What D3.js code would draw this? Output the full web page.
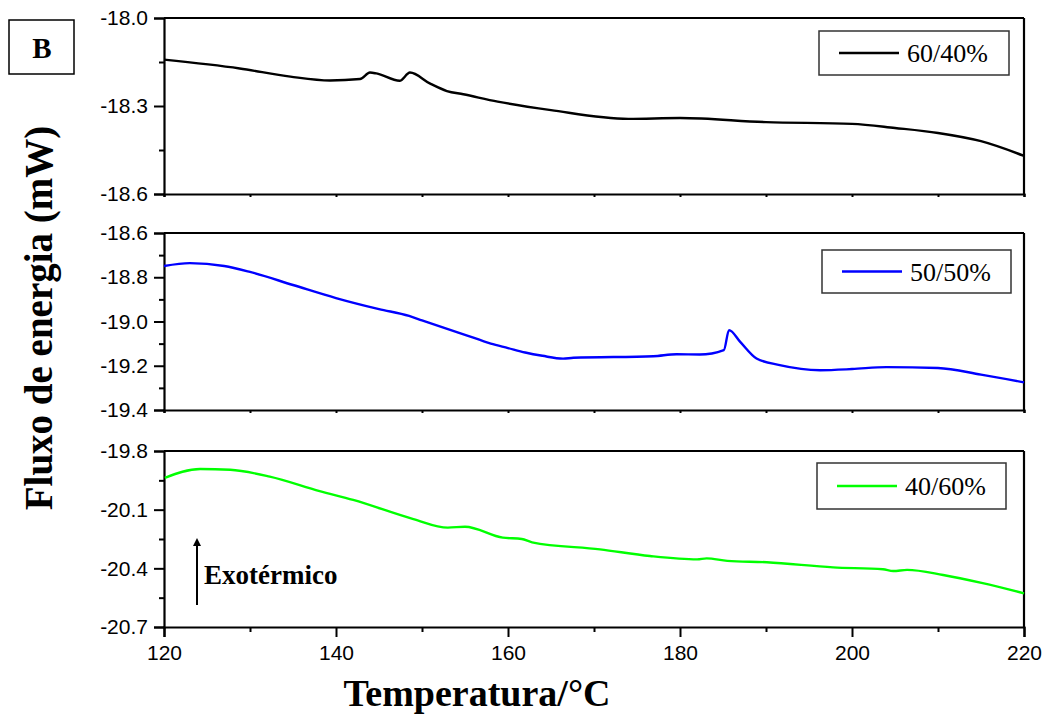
<!DOCTYPE html>
<html>
<head>
<meta charset="utf-8">
<script src="https://cdn.jsdelivr.net/npm/d3@7"></script>
<style>
body{margin:0;background:#fff;}
.tick text{font-family:"Liberation Sans",Arial,sans-serif;font-size:21px;fill:#000;}
.domain{stroke:#000;stroke-width:2.2;}
.tick line{stroke:#000;stroke-width:2;}
</style>
</head>
<body>
<svg id="chart"></svg>
<script>
//DSC curves, three blends, heat flow (mW) vs temperature (C)
var screen={width:1050,height:720}

//60/40%
var temp6040=[120,128.8,134.7,139.3,142.8,143.95,144.7,147.4,148.6,150.9,152.9,154.8,158.8,165,174,180,190,200,205,210,215,220]
var flux6040=[-18.142,-18.172,-18.2,-18.213,-18.208,-18.186,-18.189,-18.214,-18.186,-18.223,-18.249,-18.26,-18.285,-18.314,-18.344,-18.341,-18.355,-18.361,-18.375,-18.392,-18.42,-18.47]

//50/50%
var temp5050=[120,123,127,130,135,140,145,148.5,150,155,158,160,162,164,166.4,167.6,176.9,179.6,182.3,185.1,185.7,187,188.9,191.6,196.3,200,204,210,215,220]
var flux5050=[-18.749,-18.736,-18.749,-18.776,-18.835,-18.894,-18.944,-18.975,-18.995,-19.06,-19.1,-19.12,-19.14,-19.155,-19.168,-19.164,-19.157,-19.148,-19.149,-19.129,-19.039,-19.092,-19.167,-19.197,-19.22,-19.215,-19.206,-19.21,-19.24,-19.275]

//40/60%
var temp4060=[120.1,124.2,127.7,132.3,138.1,142,149,153,155,159.4,161.6,162.8,170.7,176.5,182,183.1,185.5,190.1,197.8,203.6,204.8,206.4,210.6,215.2,220]
var flux4060=[-19.937,-19.892,-19.896,-19.931,-20.005,-20.05,-20.148,-20.192,-20.187,-20.243,-20.25,-20.267,-20.303,-20.337,-20.354,-20.349,-20.362,-20.369,-20.395,-20.405,-20.414,-20.408,-20.434,-20.476,-20.528]

var xTicks=[120,140,160,180,200,220]
var xMinor=[130,150,170,190,210]

var panels=[
 {name:"60/40%",color:"#000000",t:temp6040,v:flux6040,domain:[-18.6,-18.0],range:[194,18],ticks:[-18.0,-18.3,-18.6],minor:[-18.15,-18.45],legend:[819,31,190,44]},
 {name:"50/50%",color:"#0000ff",t:temp5050,v:flux5050,domain:[-19.4,-18.6],range:[410,233],ticks:[-18.6,-18.8,-19.0,-19.2,-19.4],minor:[-18.7,-18.9,-19.1,-19.3],legend:[822,250,189,43]},
 {name:"40/60%",color:"#00ff00",t:temp4060,v:flux4060,domain:[-20.7,-19.8],range:[627,451],ticks:[-19.8,-20.1,-20.4,-20.7],minor:[-19.95,-20.25,-20.55],legend:[817,463,189,46]}
]

var svg=d3.select("#chart")
 .attr("width",screen.width)
 .attr("height",screen.height)

var x=d3.scaleLinear().domain([120,220]).range([164,1024])

var fmt=function(d){return d.toFixed(1)}

panels.forEach(function(p,i){
 var y=d3.scaleLinear().domain(p.domain).range(p.range)
 var g=svg.append("g")

 //frame lines top and right
 g.append("line").attr("x1",x(120)).attr("x2",x(220)).attr("y1",y.range()[1]).attr("y2",y.range()[1])
  .attr("stroke","#000").attr("stroke-width",2.2)
 g.append("line").attr("x1",x(220)).attr("x2",x(220)).attr("y1",y.range()[0]).attr("y2",y.range()[1])
  .attr("stroke","#000").attr("stroke-width",2.2)

 //left axis, major then minor
 g.append("g").attr("transform","translate("+x(120)+",0)")
  .call(d3.axisLeft(y).tickValues(p.ticks).tickFormat(fmt).tickSize(10).tickPadding(6))
 g.append("g").attr("transform","translate("+x(120)+",0)")
  .call(d3.axisLeft(y).tickValues(p.minor).tickFormat("").tickSize(5))
  .select(".domain").remove()

 //bottom axis
 if(i==2){
  g.append("g").attr("transform","translate(0,"+y.range()[0]+")")
   .call(d3.axisBottom(x).tickValues(xTicks).tickFormat(d3.format("d")).tickSize(10).tickPadding(8))
  g.append("g").attr("transform","translate(0,"+y.range()[0]+")")
   .call(d3.axisBottom(x).tickValues(xMinor).tickFormat("").tickSize(5))
   .select(".domain").remove()
 } else {
  var b=g.append("g").attr("transform","translate(0,"+y.range()[0]+")")
   .call(d3.axisBottom(x).tickValues(xTicks.concat(xMinor)).tickFormat("").tickSize(3))
  b.selectAll(".tick line").attr("stroke","#888").attr("stroke-width",1)
 }

 //curve
 var pts=p.t.map(function(t,k){return [t,p.v[k]]})
 var line=d3.line().x(function(d){return x(d[0])}).y(function(d){return y(d[1])}).curve(d3.curveMonotoneX)
 g.append("path").datum(pts).attr("d",line)
  .attr("fill","none").attr("stroke",p.color).attr("stroke-width",2.4).attr("stroke-linejoin","round")

 //legend box
 var L=p.legend
 g.append("rect").attr("x",L[0]).attr("y",L[1]).attr("width",L[2]).attr("height",L[3])
  .attr("fill","#fff").attr("stroke","#333").attr("stroke-width",1.5)
 g.append("line").attr("x1",L[0]+20).attr("x2",L[0]+80).attr("y1",L[1]+L[3]/2).attr("y2",L[1]+L[3]/2)
  .attr("stroke",p.color).attr("stroke-width",2.4)
 g.append("text").attr("x",L[0]+88).attr("y",L[1]+L[3]/2+9)
  .text(p.name)
  .style("font-family","'Liberation Serif','Times New Roman',serif").style("font-size","26px")
})

//panel label
svg.append("rect").attr("x",9).attr("y",20).attr("width",65).attr("height",54)
 .attr("fill","#fff").attr("stroke","#000").attr("stroke-width",1.5)
svg.append("text").attr("x",42).attr("y",58).attr("text-anchor","middle").text("B")
 .style("font-family","'Liberation Serif',serif").style("font-weight","bold").style("font-size","29px")

//exothermic arrow
svg.append("defs").append("marker").attr("id","head").attr("viewBox","0 0 10 10")
 .attr("refX",5).attr("refY",5).attr("markerWidth",4).attr("markerHeight",5).attr("orient","auto")
 .append("path").attr("d","M0,0L10,5L0,10z").attr("fill","#000")
svg.append("line").attr("x1",197).attr("x2",197).attr("y1",605).attr("y2",542)
 .attr("stroke","#000").attr("stroke-width",2).attr("marker-end","url(#head)")
svg.append("text").attr("x",204).attr("y",584).text("Exotérmico")
 .style("font-family","'Liberation Serif',serif").style("font-weight","bold").style("font-size","27px")

//axis titles
svg.append("text").attr("x",477).attr("y",706).attr("text-anchor","middle").text("Temperatura/°C")
 .style("font-family","'Liberation Serif',serif").style("font-weight","bold").style("font-size","38px")
svg.append("text").attr("transform","translate(52,318) rotate(-90)").attr("text-anchor","middle")
 .text("Fluxo de energia (mW)")
 .style("font-family","'Liberation Serif',serif").style("font-weight","bold").style("font-size","39px")
</script>
</body>
</html>
